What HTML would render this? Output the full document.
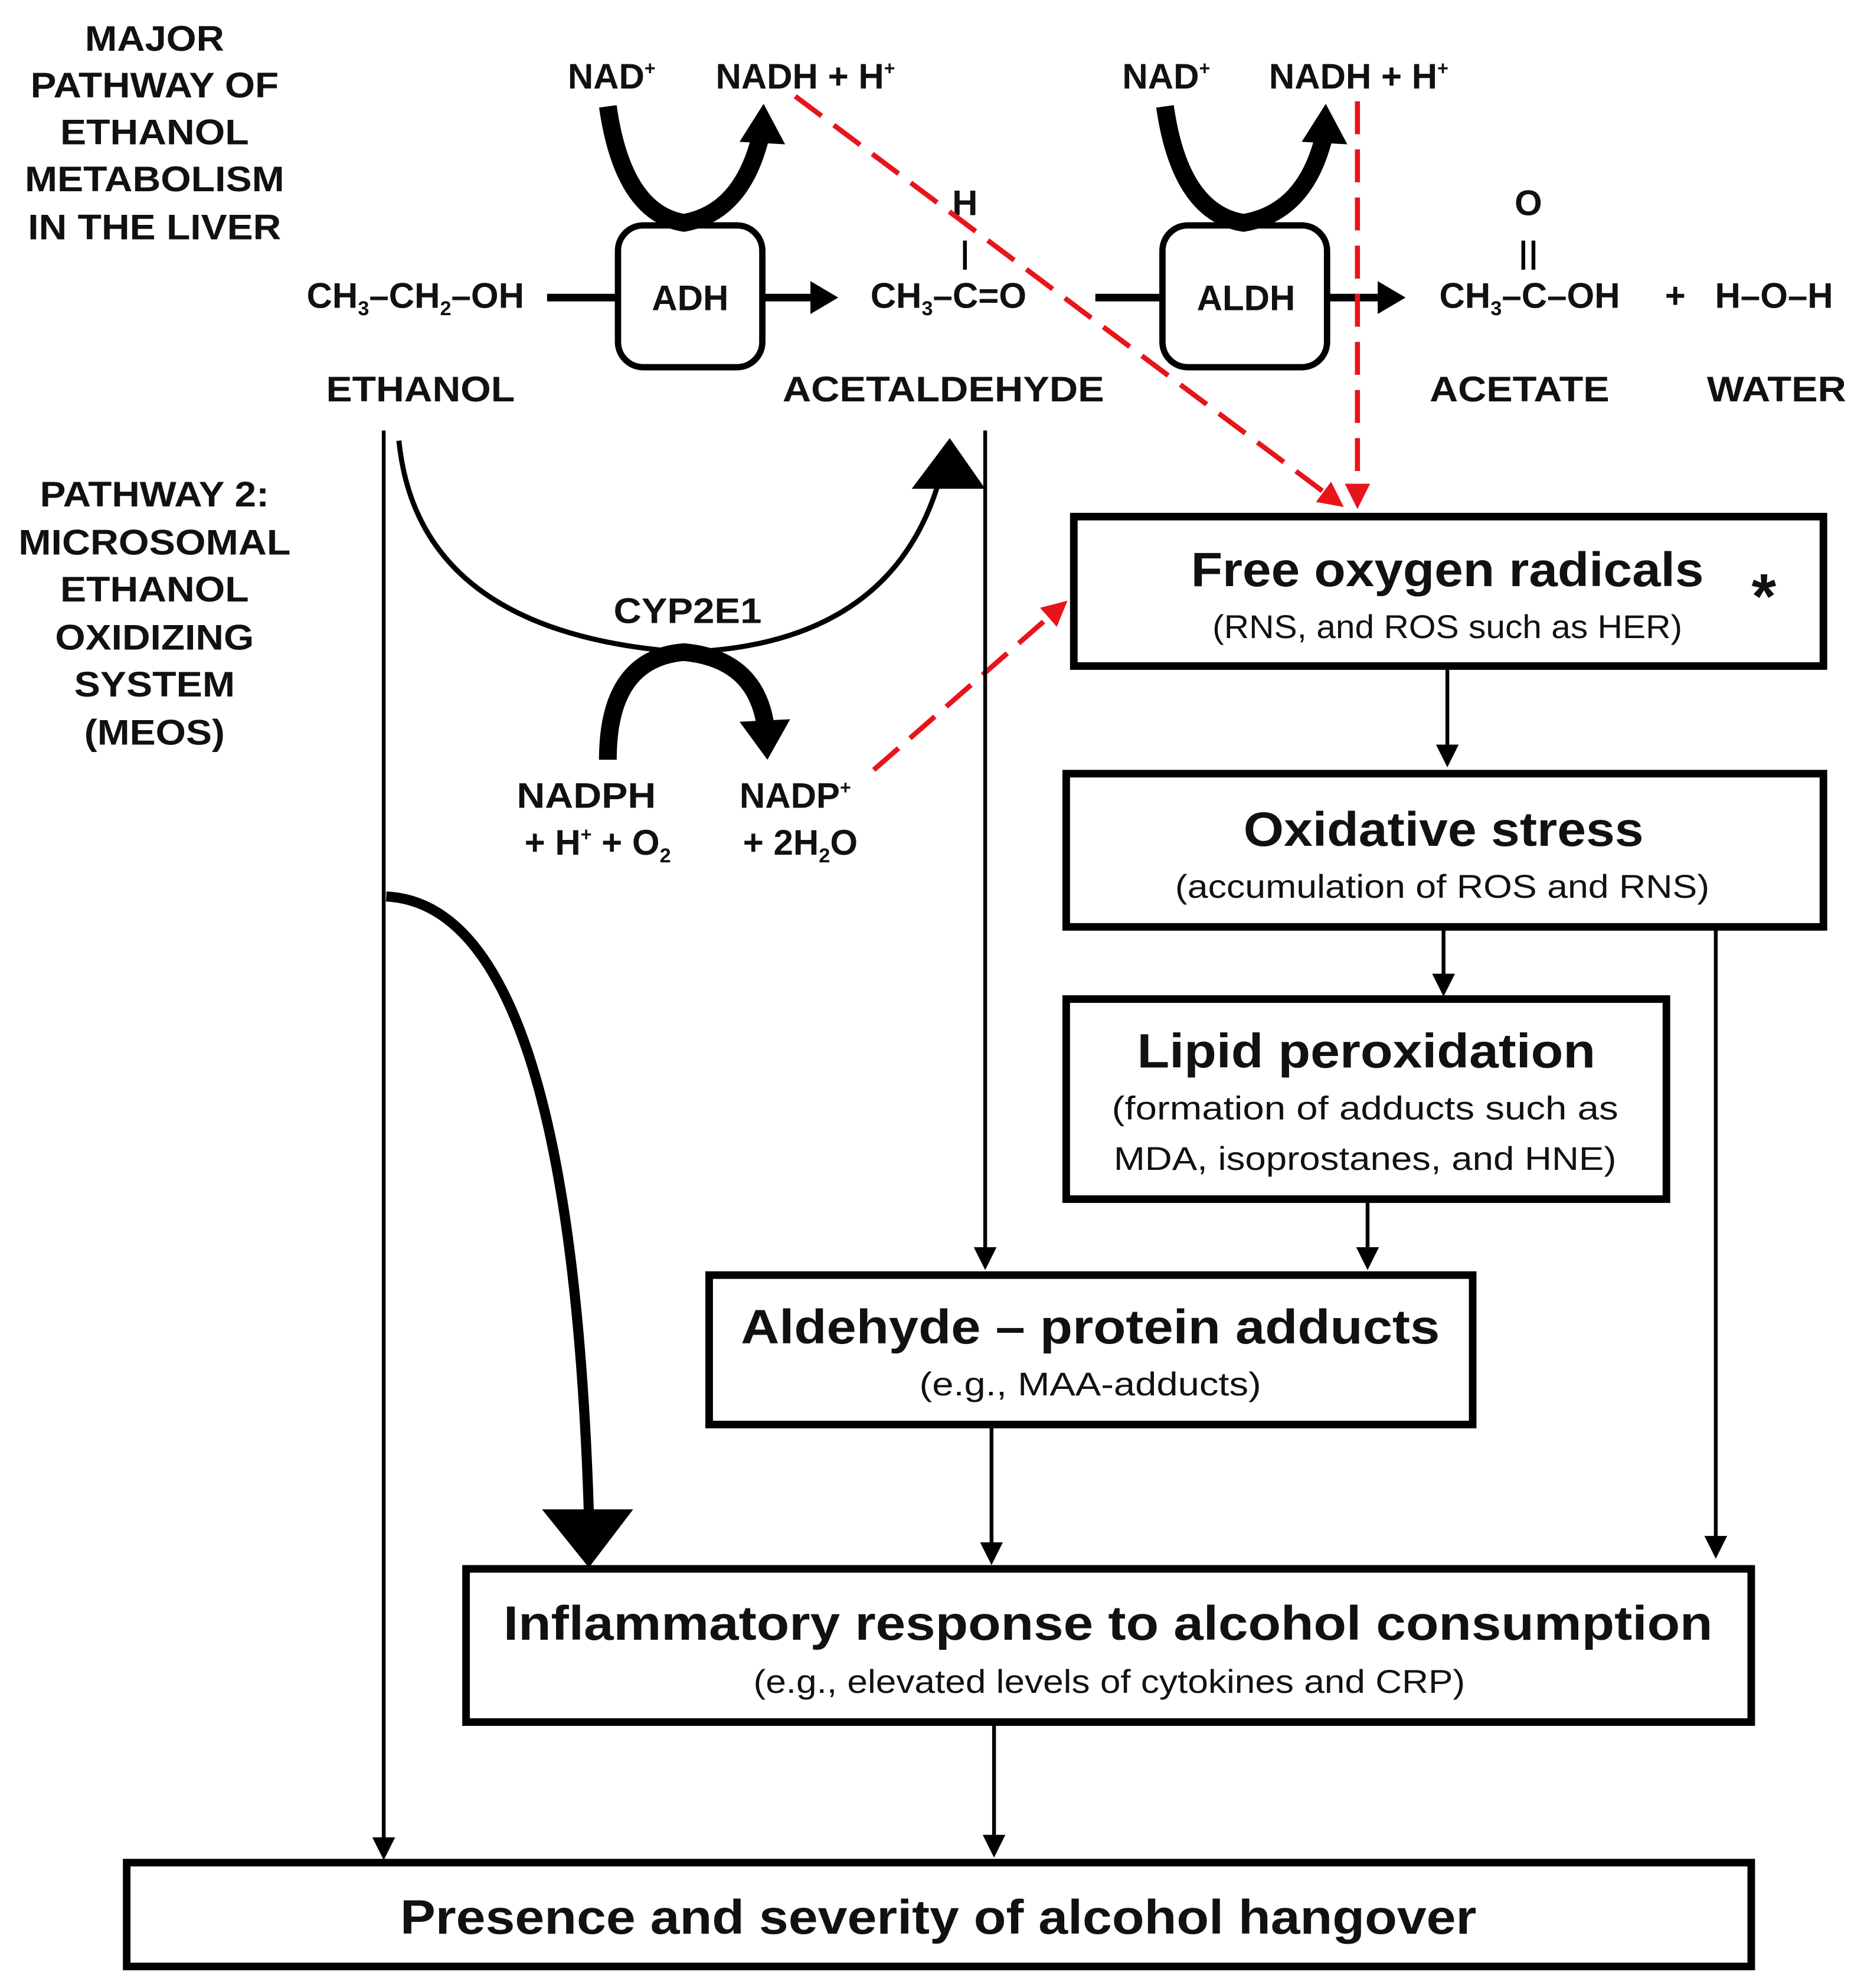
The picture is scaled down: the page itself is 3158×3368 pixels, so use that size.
<!DOCTYPE html>
<html><head><meta charset="utf-8"><style>html,body{margin:0;padding:0;background:#fff}svg{display:block}</style></head>
<body>
<svg xmlns="http://www.w3.org/2000/svg" width="3158" height="3368" viewBox="0 0 1472 1570" font-family="Liberation Sans, sans-serif">
<defs>
<marker id="ah" markerWidth="6" markerHeight="6" refX="5" refY="3" orient="auto" markerUnits="strokeWidth"><path d="M0,0 L6,3 L0,6 z" fill="#000"/></marker>
<marker id="ar" markerWidth="5" markerHeight="5" refX="4" refY="2.5" orient="auto" markerUnits="strokeWidth"><path d="M0,0 L5,2.5 L0,5 z" fill="#e8141c"/></marker>
</defs>
<rect width="1472" height="1570" fill="#fff"/>
<g font-weight="bold" font-size="28" text-anchor="middle" fill="#111" lengthAdjust="spacingAndGlyphs">
<text x="122" y="40" textLength="110" lengthAdjust="spacingAndGlyphs">MAJOR</text>
<text x="122" y="77" textLength="196" lengthAdjust="spacingAndGlyphs">PATHWAY OF</text>
<text x="122" y="114" textLength="149" lengthAdjust="spacingAndGlyphs">ETHANOL</text>
<text x="122" y="151" textLength="205" lengthAdjust="spacingAndGlyphs">METABOLISM</text>
<text x="122" y="189" textLength="200" lengthAdjust="spacingAndGlyphs">IN THE LIVER</text>
<text x="122" y="400" textLength="181" lengthAdjust="spacingAndGlyphs">PATHWAY 2:</text>
<text x="122" y="438" textLength="215" lengthAdjust="spacingAndGlyphs">MICROSOMAL</text>
<text x="122" y="475" textLength="149" lengthAdjust="spacingAndGlyphs">ETHANOL</text>
<text x="122" y="513" textLength="157" lengthAdjust="spacingAndGlyphs">OXIDIZING</text>
<text x="122" y="550" textLength="127" lengthAdjust="spacingAndGlyphs">SYSTEM</text>
<text x="122" y="588" textLength="111" lengthAdjust="spacingAndGlyphs">(MEOS)</text>
<text x="483" y="70">NAD<tspan font-size="15" dy="-11">+</tspan></text>
<text x="636" y="70">NADH + H<tspan font-size="15" dy="-11">+</tspan></text>
<text x="921" y="70">NAD<tspan font-size="15" dy="-11">+</tspan></text>
<text x="1073" y="70">NADH + H<tspan font-size="15" dy="-11">+</tspan></text>
<text x="328" y="243">CH<tspan font-size="16" dy="6">3</tspan><tspan dy="-6">–CH</tspan><tspan font-size="16" dy="6">2</tspan><tspan dy="-6">–OH</tspan></text>
<text x="545" y="245">ADH</text>
<text x="984" y="245">ALDH</text>
<text x="762" y="170">H</text>
<text x="749" y="243">CH<tspan font-size="16" dy="6">3</tspan><tspan dy="-6">–C=O</tspan></text>
<text x="1207" y="170">O</text>
<text x="1208" y="243">CH<tspan font-size="16" dy="6">3</tspan><tspan dy="-6">–C–OH</tspan></text>
<text x="1323" y="243">+</text>
<text x="1401" y="243">H–O–H</text>
<text x="332" y="317" textLength="149" lengthAdjust="spacingAndGlyphs">ETHANOL</text>
<text x="745" y="317" textLength="254" lengthAdjust="spacingAndGlyphs">ACETALDEHYDE</text>
<text x="1200" y="317" textLength="142" lengthAdjust="spacingAndGlyphs">ACETATE</text>
<text x="1403" y="317" textLength="110" lengthAdjust="spacingAndGlyphs">WATER</text>
<text x="543" y="492" textLength="117" lengthAdjust="spacingAndGlyphs">CYP2E1</text>
<text x="463" y="638" textLength="110" lengthAdjust="spacingAndGlyphs">NADPH</text>
<text x="472" y="675">+ H<tspan font-size="15" dy="-11">+</tspan><tspan dy="11"> + O</tspan><tspan font-size="16" dy="6">2</tspan></text>
<text x="628" y="638">NADP<tspan font-size="15" dy="-11">+</tspan></text>
<text x="632" y="675">+ 2H<tspan font-size="16" dy="6">2</tspan><tspan dy="-6">O</tspan></text>
</g>
<g stroke="#000" fill="none">
<line x1="762" y1="190" x2="762" y2="213" stroke-width="3"/>
<line x1="1203" y1="190" x2="1203" y2="213" stroke-width="3"/>
<line x1="1211" y1="190" x2="1211" y2="213" stroke-width="3"/>
<rect x="488" y="178" width="114" height="112" rx="20" stroke-width="5"/>
<rect x="918" y="178" width="130" height="112" rx="20" stroke-width="5"/>
<line x1="432" y1="235" x2="488" y2="235" stroke-width="6"/>
<line x1="602" y1="235" x2="640" y2="235" stroke-width="6"/>
<line x1="865" y1="235" x2="918" y2="235" stroke-width="6"/>
<line x1="1048" y1="235" x2="1088" y2="235" stroke-width="6"/>
<path d="M480 84 Q492 168 540 176 Q585 168 600 110" stroke-width="14"/>
<path d="M920 84 Q932 168 982 176 Q1030 168 1045 110" stroke-width="14"/>
<path d="M315 348 Q330 500 540 515 Q700 510 740 385" stroke-width="4"/>
<path d="M480 600 Q480 520 540 515 Q595 520 604 570" stroke-width="14"/>
<path d="M305 708 Q450 715 465 1195" stroke-width="8"/>
</g>
<g fill="#000">
<path d="M640 222 L662 235 L640 248 z"/>
<path d="M1088 222 L1110 235 L1088 248 z"/>
<path d="M584 112 L603 82 L620 114 z"/>
<path d="M1028 112 L1047 82 L1064 114 z"/>
<path d="M720 386 L750 346 L778 386 z"/>
<path d="M584 570 L606 600 L624 568 z"/>
<path d="M428 1192 L500 1192 L465 1238 z"/>
</g>
<g stroke="#e8141c" stroke-width="4" stroke-dasharray="26 12" fill="none">
<line x1="628" y1="76" x2="1058" y2="398" marker-end="url(#ar)"/>
<line x1="1072" y1="80" x2="1072" y2="398" marker-end="url(#ar)"/>
<line x1="690" y1="608" x2="840" y2="477" marker-end="url(#ar)"/>
</g>
<g stroke="#000" stroke-width="3" fill="none">
<line x1="303" y1="340" x2="303" y2="1466" marker-end="url(#ah)"/>
<line x1="778" y1="340" x2="778" y2="1000" marker-end="url(#ah)"/>
<line x1="1143" y1="526" x2="1143" y2="603" marker-end="url(#ah)"/>
<line x1="1140" y1="732" x2="1140" y2="784" marker-end="url(#ah)"/>
<line x1="1355" y1="732" x2="1355" y2="1228" marker-end="url(#ah)"/>
<line x1="1080" y1="947" x2="1080" y2="1000" marker-end="url(#ah)"/>
<line x1="783" y1="1125" x2="783" y2="1233" marker-end="url(#ah)"/>
<line x1="785" y1="1360" x2="785" y2="1464" marker-end="url(#ah)"/>
</g>
<g stroke="#000" stroke-width="6" fill="#fff">
<rect x="848" y="408" width="592" height="118"/>
<rect x="842" y="611" width="598" height="121"/>
<rect x="842" y="789" width="474" height="158"/>
<rect x="560" y="1007" width="603" height="118"/>
<rect x="368" y="1239" width="1015" height="121"/>
<rect x="100" y="1471" width="1283" height="82"/>
</g>
<g font-weight="bold" text-anchor="middle" fill="#111">
<text x="1143" y="463" font-size="38" textLength="405" lengthAdjust="spacingAndGlyphs">Free oxygen radicals</text>
<text x="1393" y="488" font-size="50">*</text>
<text x="1140" y="668" font-size="38" textLength="316" lengthAdjust="spacingAndGlyphs">Oxidative stress</text>
<text x="1079" y="843" font-size="38" textLength="362" lengthAdjust="spacingAndGlyphs">Lipid peroxidation</text>
<text x="861" y="1061" font-size="38" textLength="552" lengthAdjust="spacingAndGlyphs">Aldehyde – protein adducts</text>
<text x="875" y="1295" font-size="38" textLength="955" lengthAdjust="spacingAndGlyphs">Inflammatory response to alcohol consumption</text>
<text x="741" y="1527" font-size="38" textLength="850" lengthAdjust="spacingAndGlyphs">Presence and severity of alcohol hangover</text>
</g>
<g text-anchor="middle" fill="#111" font-size="26">
<text x="1143" y="504" textLength="371" lengthAdjust="spacingAndGlyphs">(RNS, and ROS such as HER)</text>
<text x="1139" y="709" textLength="422" lengthAdjust="spacingAndGlyphs">(accumulation of ROS and RNS)</text>
<text x="1078" y="884" textLength="400" lengthAdjust="spacingAndGlyphs">(formation of adducts such as</text>
<text x="1078" y="924" textLength="397" lengthAdjust="spacingAndGlyphs">MDA, isoprostanes, and HNE)</text>
<text x="861" y="1102" textLength="270" lengthAdjust="spacingAndGlyphs">(e.g., MAA-adducts)</text>
<text x="876" y="1337" textLength="562" lengthAdjust="spacingAndGlyphs">(e.g., elevated levels of cytokines and CRP)</text>
</g>
</svg>
</body></html>
